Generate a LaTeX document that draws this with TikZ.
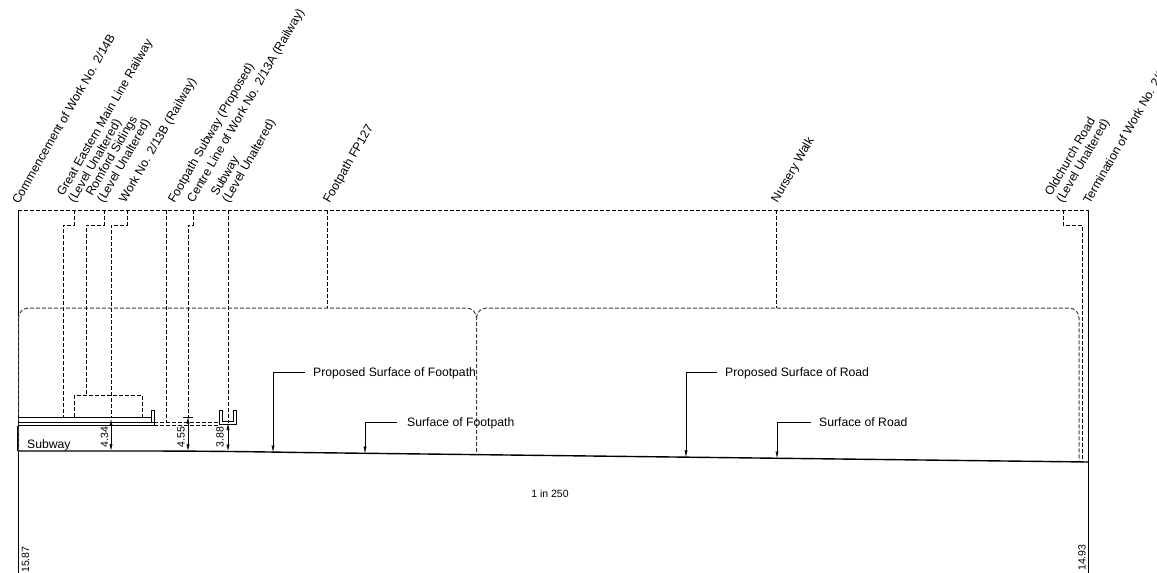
\documentclass[tikz,border=0pt]{standalone}
\usepackage{fontspec}
\setmainfont{Liberation Sans}
\usetikzlibrary{positioning,arrows.meta}

\begin{document}
\begin{tikzpicture} [auto, x=1pt, y=-1pt,
                    ohje/.style={dash pattern=on 4pt off 2pt, line width=0.7pt},
                    kaari/.style={dash pattern=on 4pt off 2pt, line width=1pt, black!75, rounded corners=10pt},
                    viiva/.style={line width=0.6pt},
                    maa/.style={line width=1.4pt},
                    nuoli/.style={line width=0.7pt, -{Latex[length=7pt,width=3.2pt]}},
                    mitta/.style={line width=0.7pt, {Latex[length=7pt,width=3.2pt]}-{Latex[length=7pt,width=3.2pt]}},
                    vino/.style={rotate=60, anchor=south west, inner sep=0pt, align=left, font=\fontsize{12.2}{13}\selectfont},
                    pinta/.style={anchor=west, inner ysep=0pt, inner xsep=8pt, text height=10.5pt, text depth=2.3pt, font=\fontsize{12.2}{13}\selectfont},
                    luku/.style={rotate=90, inner sep=0pt, font=\fontsize{10.5}{12}\selectfont}]

\useasboundingbox (0,0) rectangle (1157,573);

\node[vino] (comm) at (19,205) {Commencement of Work No. 2/14B};
\node[vino] (gemr) at (77,205) {Great Eastern Main Line Railway\\(Level Unaltered)};
\node[vino] (roms) at (106,205) {Romford Sidings\\(Level Unaltered)};
\node[vino] (wk13b) at (128,205) {Work No. 2/13B (Railway)};
\node[vino] (fsub) at (177,205) {Footpath Subway (Proposed)};
\node[vino] (cl13a) at (196,205) {Centre Line of Work No. 2/13A (Railway)};
\node[vino] (sub) at (231,205) {Subway\\(Level Unaltered)};
\node[vino] (fp) at (332,205) {Footpath FP127};
\node[vino] (nw) at (780,205) {Nursery Walk};
\node[vino] (old) at (1065,205) {Oldchurch Road\\(Level Unaltered)};
\node[vino] (term) at (1090,205) {Termination of Work No. 2/14B};

\coordinate (tl) at (18,210);
\coordinate (tr) at (1088,210);
\coordinate (bl) at (18,573);
\coordinate (br) at (1088,573);
\coordinate (g0) at (18,451);
\coordinate (g1) at (1088,462);

\draw[viiva, line width=0.9pt] (tl) -- (bl);
\draw[viiva, line width=0.9pt] (tr) -- (br);
\draw[ohje] (tl) -- (tr);
\draw[maa] (g0) -- (130,451) .. controls (200,451) and (240,451.5) .. (300,452.5) -- (g1);
\draw[maa] (18,425.5) -- (g0);

\draw[ohje] (74,210) -- (74,225) -- (63,225) -- (63,418);
\draw[ohje] (104,210) -- (104,225) -- (86,225) -- (86,395);
\draw[ohje] (127,210) -- (127,225) -- (111,225) -- (111,418);
\draw[ohje] (166.5,210) -- (166.5,422);
\draw[ohje] (193,210) -- (193,225) -- (188,225) -- (188,417);
\draw[ohje] (228,210) -- (228,423);
\draw[ohje] (327,210) -- (327,308);
\draw[ohje] (776,210) -- (776,308);
\draw[ohje] (1063,210) -- (1063,225) -- (1082,225) -- (1082,462);

\draw[kaari] (18.5,451) -- (18.5,308) -- (476.5,308) -- (476.5,455);
\draw[kaari] (476.5,318) -- (476.5,308) -- (1079,308) -- (1079,461);

\draw[ohje] (74.5,417) rectangle (142,395);
\draw[viiva] (18,417.7) -- (151,417.7);
\draw[viiva] (18,422.3) -- (154,422.3);
\draw[viiva, line width=0.9pt] (18,425.4) -- (154,425.4);
\draw[viiva] (151,422.3) -- (151,410) -- (154,410) -- (154,425.4);
\draw[ohje] (154,422.3) -- (219.5,422.3);
\draw[ohje] (154,425.4) -- (219.5,425.4);
\draw[viiva] (222.5,421.3) -- (222.5,410) -- (219.5,410) -- (219.5,424.6) -- (236,424.6) -- (236,410) -- (233,410) -- (233,421.3) -- cycle;

\draw[mitta] (111,418.5) -- (111,451);
\draw[mitta] (188,416.5) -- (188,451.3);
\draw[mitta] (228,423) -- (228,451.5);
\draw[viiva] (183,417) -- (193,417);

\node[luku] (d434) at (104.5,437) {4.34};
\node[luku] (d455) at (181,437) {4.55};
\node[luku] (d388) at (220,437) {3.88};
\node[luku, anchor=west] (e1587) at (25.5,573) {15.87};
\node[luku, anchor=west] (e1493) at (1082,571) {14.93};

\node[pinta] (psf) at (305,372) {Proposed Surface of Footpath};
\node[pinta, inner xsep=10pt] (sf) at (397,422) {Surface of Footpath};
\node[pinta] (psr) at (717,372) {Proposed Surface of Road};
\node[pinta] (sr) at (811,422) {Surface of Road};

\coordinate (psfp) at (273,452.5);
\coordinate (sfp) at (365,453.6);
\coordinate (psrp) at (686,457.4);
\coordinate (srp) at (777,458.5);

\draw[nuoli] (psf.west) -| (psfp);
\draw[nuoli] (sf.west) -| (sfp);
\draw[nuoli] (psr.west) -| (psrp);
\draw[nuoli] (sr.west) -| (srp);

\node[inner sep=0pt, font=\fontsize{12.2}{13}\selectfont, anchor=west] (sw) at (27,445) {Subway};
\node[inner sep=0pt, font=\fontsize{10.5}{12}\selectfont] (grad) at (550,494) {1 in 250};
\end{tikzpicture}
\end{document}
